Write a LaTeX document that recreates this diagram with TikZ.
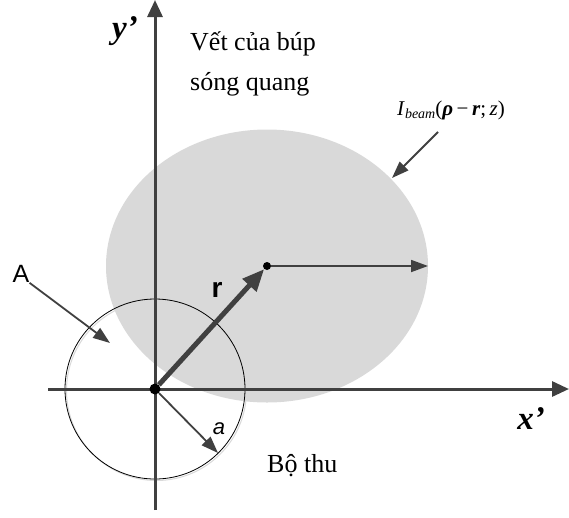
\documentclass[tikz,border=0pt]{standalone}
\usepackage{fontspec}
\setmainfont{Liberation Serif}
\setsansfont{Liberation Sans}
\usetikzlibrary{arrows.meta}
\definecolor{axisgray}{HTML}{404040}
\definecolor{beamgray}{HTML}{D9D9D9}

\begin{document}
\begin{tikzpicture}[
    x=1pt, y=-1pt, >={Triangle[length=17pt,width=15pt]},
    axis/.style={draw=axisgray, line width=3pt, ->},
    pointer/.style={draw=axisgray, line width=1.8pt,
        -{Triangle[length=17pt,width=12pt]}},
    lbl/.style={inner sep=0pt, font=\fontsize{26}{30}\selectfont},
    dot/.style={circle, fill=black, inner sep=0pt, minimum size=#1}
  ]
  \useasboundingbox (0,0) rectangle (569,517);
  \coordinate (O) at (155,389);
  \coordinate (C) at (267,266);

  % beam spot and detector
  \fill[beamgray] (C) ellipse [x radius=161, y radius=136.5];
  \draw[black!15, line width=1pt] (156.5,390.5) circle [radius=90];
  \draw[black, line width=0.8pt] (O) circle [radius=90];

  % axes
  \coordinate (yb) at (155,510);
  \coordinate (yt) at (155,0);
  \coordinate (xl) at (48,389);
  \coordinate (xr) at (569,389);
  \draw[axis] (yb) -- (yt);
  \draw[axis] (xl) -- (xr);

  \node[dot=11pt] (Odot) at (O) {};
  \node[dot=8pt] (Cdot) at (C) {};

  \node[lbl, font=\fontsize{33}{36}\selectfont\bfseries\itshape] (ylbl)
    at (125,31) {y’};
  \node[lbl, font=\fontsize{33}{36}\selectfont\bfseries\itshape] (xlbl)
    at (531,419) {x’};
  \node[lbl, anchor=base west] (spot1) at (190,50) {Vết của búp};
  \node[lbl, anchor=base west] (spot2) at (190,90) {sóng quang};
  \node[lbl, anchor=base west] (rx) at (267,472) {Bộ thu};
  \node[lbl, anchor=base west, font=\fontsize{21}{24}\selectfont] (ibeam)
    at (397,115) {\textit{I}\raisebox{-0.4ex}{\fontsize{14}{16}\selectfont\textit{beam}}(\textbf{\textit{ρ}}\,−\,\textbf{\textit{r}};\,\textit{z})};
  \node[lbl, font=\fontsize{25}{28}\selectfont\sffamily] (A) at (21,274) {A};
  \node[lbl, font=\fontsize{28}{30}\selectfont\sffamily\bfseries] (rlbl)
    at (217,290) {r};
  \node[lbl, font=\fontsize{22}{26}\selectfont\sffamily\itshape] (albl)
    at (219,429) {a};

  \coordinate (cR) at (428,266);
  \coordinate (aTip) at (218,453);
  \coordinate (Atip) at (110,343);
  \coordinate (ibtail) at (438,132);
  \coordinate (ibtip) at (392,178);

  \draw[draw=axisgray, line width=5pt, -{Triangle[length=22pt,width=18pt]}]
    (Odot) -- (Cdot);
  \draw[pointer] (Cdot) -- (cR);
  \draw[pointer] (Odot) -- (aTip);
  \draw[pointer] (A.south east) -- (Atip);
  \draw[pointer] (ibtail) -- (ibtip);
\end{tikzpicture}
\end{document}
